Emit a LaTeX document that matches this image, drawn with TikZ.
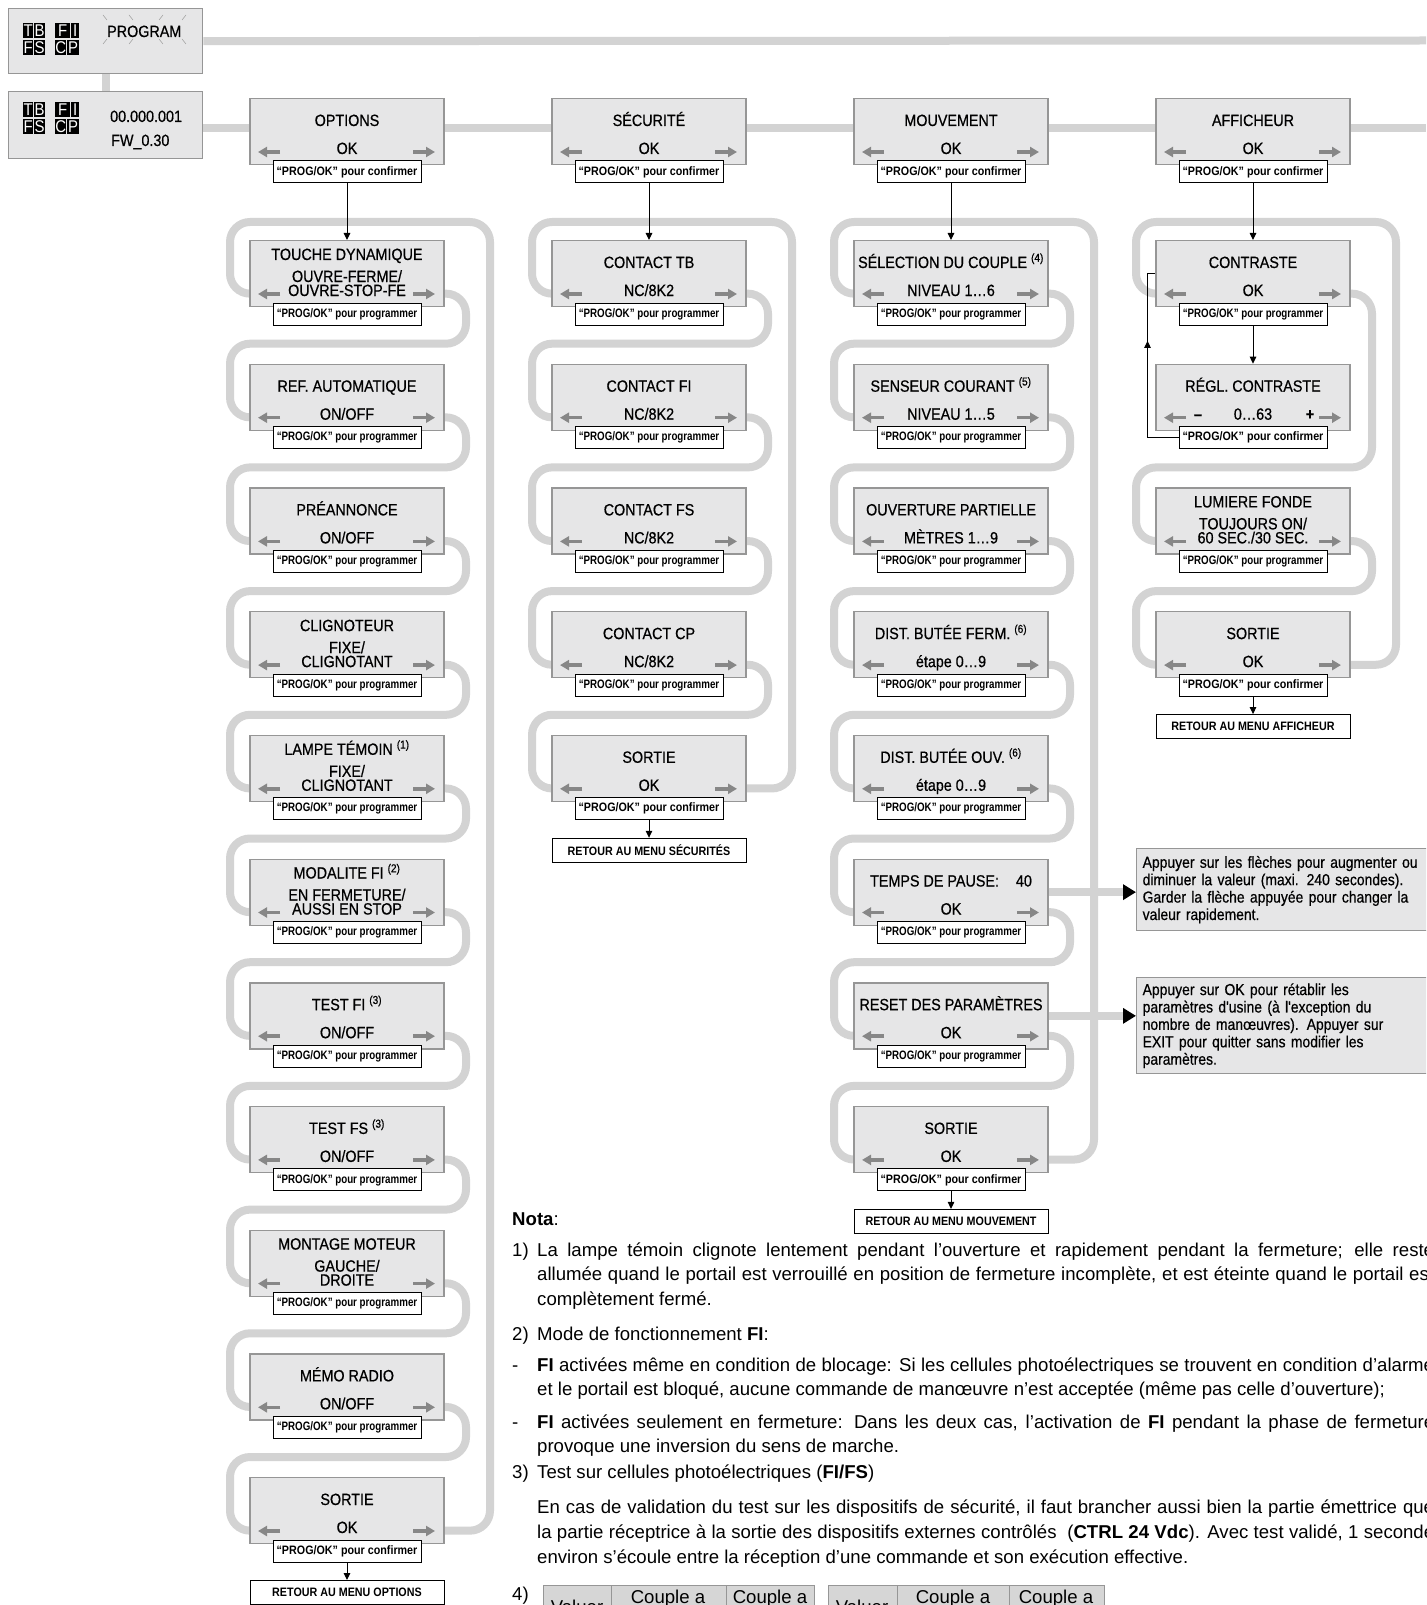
\documentclass[tikz,border=0pt]{standalone}
\usepackage{fontspec}
\setmainfont{Liberation Sans}
\newfontfamily\boxfam[FakeStretch=0.88,FakeBold=0.6]{Liberation Sans}
\newfontfamily\lcdfam[FakeStretch=0.88]{Liberation Sans}
\newfontfamily\cfmfam[FakeStretch=0.88]{Liberation Sans}
\newfontfamily\prgfam[FakeStretch=0.80]{Liberation Sans}
\newfontfamily\infofam[FakeStretch=0.87,FakeBold=0.5]{Liberation Sans}
\usetikzlibrary{backgrounds,arrows.meta,decorations.markings}

\definecolor{loopgray}{RGB}{211,211,211}
\definecolor{boxfill}{RGB}{230,230,231}
\definecolor{boxline}{RGB}{150,150,150}
\definecolor{arrowgray}{RGB}{135,135,135}
\definecolor{headgray}{RGB}{214,214,214}

\newcommand{\menufont}{\boxfam\fontsize{16.3}{18}\selectfont}
\newcommand{\infofont}{\infofam\fontsize{16}{17.4}\selectfont}
\newcommand{\notefont}{\fontsize{18.6}{24.5}\selectfont}
\newcommand{\cfmtxt}{{\cfmfam\bfseries\fontsize{12.2}{14}\selectfont “PROG/OK” pour confirmer}}
\newcommand{\prgtxt}{{\prgfam\bfseries\fontsize{12.2}{14}\selectfont “PROG/OK” pour programmer}}
\newcommand{\jline}[1]{\hbox to 897pt{#1}}

\begin{document}
\begin{tikzpicture}[x=1pt,y=-1pt,
  menu/.style={draw=boxline,fill=boxfill,line width=1.3pt,minimum width=194pt,minimum height=66pt,inner sep=0pt},
  prog/.style={draw=black,fill=white,line width=1pt,minimum width=148pt,minimum height=22pt,inner sep=0pt},
  retour/.style={prog,minimum width=194pt,minimum height=24pt,font=\cfmfam\bfseries\fontsize{12.2}{14}\selectfont},
  txt/.style={anchor=base,inner sep=0pt,font=\menufont},
  loop/.style={draw=loopgray,line width=8pt,rounded corners=20pt},
  bar/.style={draw=loopgray,line width=8pt},
  garrow/.style={draw=arrowgray,line width=3.5pt,-{Triangle[length=9pt,width=10pt]}},
  link/.style={draw=black,line width=1pt,-{Triangle[length=7pt,width=6.5pt]}},
  back/.style={draw=black,line width=1pt,postaction={decorate},
    decoration={markings,mark=at position 0.63 with {\arrow{Triangle[length=7pt,width=6.5pt]}}}},
  info/.style={draw=boxline,fill=boxfill,line width=1.3pt,anchor=north west,minimum width=320pt,
    text width=330pt,inner xsep=6pt,align=left,font=\infofont},
  lcd/.style={fill=black,text=white,inner sep=0pt,anchor=north west,minimum height=15pt,
    font=\lcdfam\fontsize{17}{15}\selectfont},
  ray/.style={draw=gray!70,line width=0.6pt},
  note/.style={anchor=base west,inner sep=0pt,font=\notefont},
  cell/.style={draw=boxline,fill=headgray,line width=1pt}]

  \useasboundingbox (0,0) rectangle (1426,1605);
  \clip (0,0) rectangle (1426,1605);

  % display
  \node[menu,anchor=north west,minimum height=65pt] (prog) at (8,8) {};
  \node[menu,anchor=north west,minimum height=67pt] (fw) at (8,91) {};
  \foreach \y in {23,102}{
    \foreach \x/\w/\l in {23/10/T,34/11/B,55/15/F,71/8/I}
      \node[lcd,minimum width=\w pt] (t-\x-\y) at (\x,\y) {\l};
    \foreach \x/\w/\l in {23/10/F,34/11/S,55/11/C,67/12/P}
      \node[lcd,minimum width=\w pt] (b-\x-\y) at (\x,\y+17) {\l};
  }
  \node[txt,anchor=base west] (prog-t) at (107,37) {PROGRAM};
  \foreach \a/\b/\c/\d in {103/15/107/20,129/15/133/20,159/20/163/15,182/20/186/15,
                           103/44/107/39,129/44/133/39,159/39/163/44,182/39/186/44}
    \draw[ray] (\a,\b) -- (\c,\d);
  \node[txt,anchor=base west] (fw-a) at (110,122) {00.000.001};
  \node[txt,anchor=base west] (fw-b) at (111,146) {FW\_0.30};
  \coordinate (edge1) at (1426,40.5);
  \coordinate (edge2) at (1426,128);

  % main menus
  \foreach \X/\n/\ttl in {347/options/OPTIONS,649/securite/SÉCURITÉ,951/mouvement/MOUVEMENT,1253/afficheur/AFFICHEUR}{
    \node[menu,anchor=north] (\n) at (\X,98) {};
    \node[txt] (\n-t) at (\X,126) {\ttl};
    \node[txt] (\n-v) at (\X,154) {OK};
    \draw[garrow] (\X-67,152) -- (\X-89,152);
    \draw[garrow] (\X+66,152) -- (\X+88,152);
    \node[prog] (\n-ok) at (\X,172) {\cfmtxt};
  }

  % sub menus
  \foreach \ok/\p/\X/\i/\dy/\ta/\tb/\tc in {
    prg/o/347/0/20/{TOUCHE DYNAMIQUE}/{OUVRE-FERME/}/{OUVRE-STOP-FE},
    prg/o/347/1/28/{REF. AUTOMATIQUE}/{}/{ON/OFF},
    prg/o/347/2/28/{PRÉANNONCE}/{}/{ON/OFF},
    prg/o/347/3/20/{CLIGNOTEUR}/{FIXE/}/{CLIGNOTANT},
    prg/o/347/4/20/{LAMPE TÉMOIN \textsuperscript{(1)}}/{FIXE/}/{CLIGNOTANT},
    prg/o/347/5/20/{MODALITE FI \textsuperscript{(2)}}/{EN FERMETURE/}/{AUSSI EN STOP},
    prg/o/347/6/28/{TEST FI \textsuperscript{(3)}}/{}/{ON/OFF},
    prg/o/347/7/28/{TEST FS \textsuperscript{(3)}}/{}/{ON/OFF},
    prg/o/347/8/20/{MONTAGE MOTEUR}/{GAUCHE/}/{DROITE},
    prg/o/347/9/28/{MÉMO RADIO}/{}/{ON/OFF},
    cfm/o/347/10/28/{SORTIE}/{}/{OK},
    prg/s/649/0/28/{CONTACT TB}/{}/{NC/8K2},
    prg/s/649/1/28/{CONTACT FI}/{}/{NC/8K2},
    prg/s/649/2/28/{CONTACT FS}/{}/{NC/8K2},
    prg/s/649/3/28/{CONTACT CP}/{}/{NC/8K2},
    cfm/s/649/4/28/{SORTIE}/{}/{OK},
    prg/m/951/0/28/{SÉLECTION DU COUPLE \textsuperscript{(4)}}/{}/{NIVEAU 1…6},
    prg/m/951/1/28/{SENSEUR COURANT \textsuperscript{(5)}}/{}/{NIVEAU 1…5},
    prg/m/951/2/28/{OUVERTURE PARTIELLE}/{}/{MÈTRES 1…9},
    prg/m/951/3/28/{DIST. BUTÉE FERM. \textsuperscript{(6)}}/{}/{étape 0…9},
    prg/m/951/4/28/{DIST. BUTÉE OUV. \textsuperscript{(6)}}/{}/{étape 0…9},
    prg/m/951/5/28/{TEMPS DE PAUSE:\hspace{17pt}40}/{}/{OK},
    prg/m/951/6/28/{RESET DES PARAMÈTRES}/{}/{OK},
    cfm/m/951/7/28/{SORTIE}/{}/{OK},
    prg/a/1253/0/28/{CONTRASTE}/{}/{OK},
    cfm/a/1253/1/28/{RÉGL. CONTRASTE}/{}/{0…63},
    prg/a/1253/2/20/{LUMIERE FONDE}/{TOUJOURS ON/}/{60 SEC./30 SEC.},
    cfm/a/1253/3/28/{SORTIE}/{}/{OK}}{
    \pgfmathsetmacro\ty{240+123.7*\i}
    \node[menu,anchor=north] (\p\i) at (\X,\ty) {};
    \node[txt] (\p\i-t) at (\X,\ty+\dy) {\ta};
    \node[txt] (\p\i-m) at (\X,\ty+42) {\tb};
    \node[txt] (\p\i-v) at (\X,\ty+56) {\tc};
    \draw[garrow] (\X-67,\ty+54) -- (\X-89,\ty+54);
    \draw[garrow] (\X+66,\ty+54) -- (\X+88,\ty+54);
    \node[prog] (\p\i-ok) at (\X,\ty+74) {\csname\ok txt\endcsname};
  }
  \node[txt] (a1-minus) at (1198,419.7) {\textbf{–}};
  \node[txt] (a1-plus) at (1310,419.7) {\textbf{+}};

  \node[retour,anchor=north] (o-ret) at (347,1580) {RETOUR AU MENU OPTIONS};
  \node[retour,anchor=north] (s-ret) at (649,837.8) {RETOUR AU MENU SÉCURITÉS};
  \node[retour,anchor=north] (m-ret) at (951,1208.9) {RETOUR AU MENU MOUVEMENT};
  \node[retour,anchor=north] (a-ret) at (1253,714.1) {RETOUR AU MENU AFFICHEUR};

  \foreach \n/\p in {options/o,securite/s,mouvement/m,afficheur/a}
    \draw[link] (\n-ok.south) -- (\p0.north);
  \foreach \p/\k in {o/10,s/4,m/7,a/3}
    \draw[link] (\p\k-ok.south) -- (\p-ret.north);
  \draw[link] (a0-ok.south) -- (a1.north);
  \draw[back] (a1-ok.west) -- ++(-31,0) |- (a0.west);

  % help boxes
  \node[info,minimum height=82pt] (pause) at (1136,848) {Appuyer sur les flèches pour augmenter ou\\diminuer la valeur (maxi. 240 secondes).\\Garder la flèche appuyée pour changer la\\valeur rapidement.};
  \node[info,minimum height=96pt] (reset) at (1136,977) {Appuyer sur OK pour rétablir les\\paramètres d'usine (à l'exception du\\nombre de manœuvres). Appuyer sur\\EXIT pour quitter sans modifier les\\paramètres.};
  \draw[bar,-{Triangle[length=13pt,width=15pt,color=black]}] (m5.east) -- (m5.east -| pause.west);
  \draw[bar,-{Triangle[length=13pt,width=15pt,color=black]}] (m6.east) -- (m6.east -| reset.west);

  % grey loops
  \begin{scope}[on background layer]
    \draw[bar] (prog.south) -- (fw.north);
    \draw[bar] (prog.east) -- (edge1);
    \draw[bar] (fw.east |- edge2) -- (edge2);
    \foreach \p/\X/\N in {o/347/10,s/649/4,m/951/7,a/1253/3}
      \draw[loop] ([yshift=-20pt]\p0.west) -| (\X-117,222) -- (\X+143,222) |- ([yshift=-20pt]\p\N.east);
    \foreach \p/\X/\N in {o/347/9,s/649/3,m/951/6}
      \foreach \i in {0,...,\N}{
        \pgfmathtruncatemacro\j{\i+1}
        \pgfmathsetmacro\yy{240+123.7*\j-20}
        \draw[loop] ([yshift=-20pt]\p\i.east) -| (\X+119,\yy) -- (\X-117,\yy) |- ([yshift=-20pt]\p\j.west);
      }
    \foreach \i/\j in {0/2,2/3}{
      \pgfmathsetmacro\yy{240+123.7*\j-20}
      \draw[loop] ([yshift=-20pt]a\i.east) -| (1372,\yy) -- (1136,\yy) |- ([yshift=-20pt]a\j.west);
    }
  \end{scope}

  % notes
  \node[note] (nota) at (512,1225) {\textbf{Nota}:};
  \node[note] (n1-num) at (512,1256) {1)};
  \node[note] (n1-a) at (537,1256) {\jline{La lampe témoin clignote lentement pendant l’ouverture et rapidement pendant la fermeture; elle reste}};
  \node[note] (n1-b) at (537,1280) {\jline{allumée quand le portail est verrouillé en position de fermeture incomplète, et est éteinte quand le portail est}};
  \node[note] (n1-c) at (537,1305) {complètement fermé.};
  \node[note] (n2-num) at (512,1340) {2)};
  \node[note] (n2-a) at (537,1340) {Mode de fonctionnement \textbf{FI}:};
  \node[note] (n2-d1) at (512,1371) {-};
  \node[note] (n2-b) at (537,1371) {\jline{\textbf{FI} activées même en condition de blocage: Si les cellules photoélectriques se trouvent en condition d’alarme}};
  \node[note] (n2-c) at (537,1395) {et le portail est bloqué, aucune commande de manœuvre n’est acceptée (même pas celle d’ouverture);};
  \node[note] (n2-d2) at (512,1428) {-};
  \node[note] (n2-e) at (537,1428) {\jline{\textbf{FI} activées seulement en fermeture: Dans les deux cas, l’activation de \textbf{FI} pendant la phase de fermeture}};
  \node[note] (n2-f) at (537,1452) {provoque une inversion du sens de marche.};
  \node[note] (n3-num) at (512,1478) {3)};
  \node[note] (n3-a) at (537,1478) {Test sur cellules photoélectriques (\textbf{FI/FS})};
  \node[note] (n3-b) at (537,1513) {\jline{En cas de validation du test sur les dispositifs de sécurité, il faut brancher aussi bien la partie émettrice que}};
  \node[note] (n3-c) at (537,1538) {\jline{la partie réceptrice à la sortie des dispositifs externes contrôlés\ \ (\textbf{CTRL 24 Vdc}). Avec test validé, 1 seconde}};
  \node[note] (n3-d) at (537,1563) {environ s’écoule entre la réception d’une commande et son exécution effective.};
  \node[note] (n4-num) at (512,1600) {4)};

  % torque tables
  \foreach \a/\b in {543/611,611/726,726/814,828/897,897/1009,1009/1104}
    \draw[cell] (\a,1585) rectangle (\b,1640);
  \foreach \x in {577,862}
    \node[note,anchor=base] (val-\x) at (\x,1613) {Valuer};
  \foreach \x in {668,770,953,1056}
    \node[note,anchor=base] (cpl-\x) at (\x,1603) {Couple a};
\end{tikzpicture}
\end{document}
